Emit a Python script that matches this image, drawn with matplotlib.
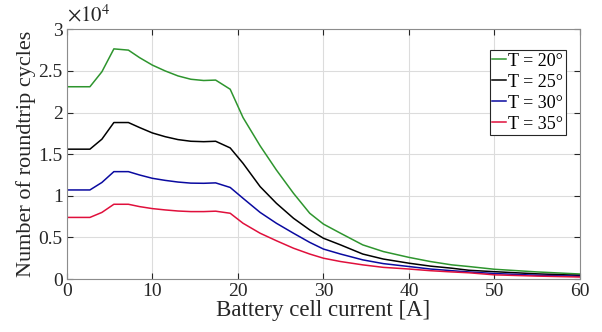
import numpy as np
import matplotlib
matplotlib.use("Agg")
import matplotlib.pyplot as plt

plt.rcParams['font.family'] = ['Liberation Serif', 'DejaVu Serif']
plt.rcParams['mathtext.fontset'] = 'stix'

# battery cell current [A]
current = [0, 2.7, 4.1, 5.5, 7.2, 8.5, 10, 11.5, 13, 14.5, 16, 17.4, 19.1, 20.6,
           22.6, 24.5, 26.5, 28.4, 30, 32, 34.6, 37, 40, 42.5, 45, 47, 50, 55, 60]

# roundtrip cycles, in units of 1e4
cycles_20 = [2.31, 2.31, 2.49, 2.765, 2.75, 2.66, 2.57, 2.50, 2.44, 2.40, 2.385, 2.39, 2.28, 1.94,
             1.60, 1.31, 1.03, 0.79, 0.66, 0.55, 0.41, 0.33, 0.26, 0.21, 0.17, 0.15, 0.117, 0.085, 0.06]
cycles_25 = [1.56, 1.56, 1.68, 1.88, 1.88, 1.82, 1.755, 1.71, 1.675, 1.655, 1.65, 1.655, 1.575, 1.39,
             1.11, 0.91, 0.73, 0.59, 0.49, 0.41, 0.30, 0.24, 0.19, 0.155, 0.13, 0.105, 0.088, 0.062, 0.044]
cycles_30 = [1.07, 1.07, 1.16, 1.29, 1.29, 1.25, 1.21, 1.185, 1.165, 1.152, 1.15, 1.155, 1.10, 0.97,
             0.80, 0.67, 0.55, 0.44, 0.36, 0.30, 0.23, 0.185, 0.15, 0.12, 0.10, 0.085, 0.066, 0.045, 0.032]
cycles_35 = [0.74, 0.74, 0.80, 0.898, 0.898, 0.87, 0.846, 0.83, 0.817, 0.81, 0.81, 0.815, 0.79, 0.67,
             0.55, 0.46, 0.37, 0.30, 0.25, 0.21, 0.17, 0.14, 0.12, 0.10, 0.085, 0.075, 0.05, 0.035, 0.024]

labels = ['T = 20°', 'T = 25°', 'T = 30°', 'T = 35°']
colors = ['#2e952e', '#000000', '#0a0aa0', '#e0103c']

fig = plt.figure(figsize=(6.02, 3.32), dpi=100)
ax = fig.add_axes([0.111, 0.1596, 0.8525, 0.7521])

for y, lab, c in zip([cycles_20, cycles_25, cycles_30, cycles_35], labels, colors):
    ax.plot(current, y, color=c, lw=1.1, label=lab)

ax.set_xlim(0, 60)
ax.set_ylim(0, 3)
ax.set_xticks(np.arange(0, 61, 10))
ax.set_yticks(np.arange(0, 3.01, 0.5))
ax.set_yticklabels(['0', '0.5', '1', '1.5', '2', '2.5', '3'])
ax.grid(True, color='#dcdcdc', lw=0.8)
ax.set_axisbelow(True)
for s in ax.spines.values():
    s.set_color('#8c8c8c')
    s.set_linewidth(0.8)
ax.tick_params(direction='in', top=True, right=True, length=4, width=0.8,
               color='#262626', labelsize=14, labelcolor='#262626', pad=3)

ax.set_xlabel('Battery cell current [A]', fontsize=16.5, color='#262626', labelpad=0)
ax.set_ylabel('Number of roundtrip cycles', fontsize=16, color='#262626', labelpad=2)
ax.text(0.0, 1.012, r'$\times10^{4}$', transform=ax.transAxes, fontsize=15,
        color='#262626', ha='left', va='bottom')

leg = ax.legend(loc='upper right', bbox_to_anchor=(0.973, 0.917), borderaxespad=0,
                fontsize=13, handlelength=0.75, handletextpad=0.15, borderpad=0.15,
                labelspacing=0.22, fancybox=False, framealpha=1)
leg.get_frame().set_edgecolor('#262626')
leg.get_frame().set_linewidth(0.8)

fig.savefig('out.png', dpi=100)
